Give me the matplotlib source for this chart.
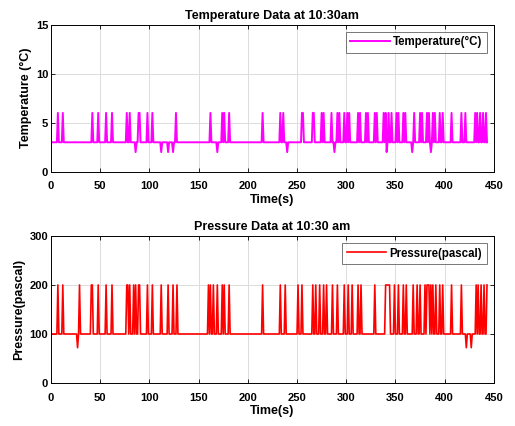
'''plot.py draws the temperature and pressure logs recorded at 10:30am.'''

import numpy as np
import matplotlib
matplotlib.use('Agg')
import matplotlib.pyplot as plt

plt.rcParams['font.family'] = ['Liberation Sans', 'DejaVu Sans']

# last sample time (s)
t_end = 443

# temperature (degC): base level, spike level, dip level and where they happen
temp_base = 3
temp_high = 6
temp_low = 2
temp_high_t = [7, 12, 42, 48, 56, 62, 77, 80, 89, 90, 98, 103, 127, 162, 174,
               176, 181, 215, 233, 236, 255, 256, 266, 267, 275, 277, 285, 291,
               293, 298, 301, 303, 312, 314, 320, 322, 329, 331, 338, 340, 343,
               346, 351, 353, 358, 360, 369, 375, 377, 382, 384, 388, 390, 395,
               398, 407, 417, 421, 431, 433, 436, 439, 442]
temp_low_t = [86, 112, 119, 124, 169, 240, 288, 341, 367, 386]

# pressure (pascal)
pres_base = 100
pres_high = 200
pres_low = 72
pres_high_t = [7, 12, 29, 41, 42, 48, 56, 62, 77, 78, 80, 84, 86, 89, 90, 98,
               103, 112, 119, 124, 128, 160, 162, 165, 169, 174, 176, 181, 215,
               233, 238, 251, 255, 266, 269, 273, 277, 280, 286, 291, 298, 302,
               306, 312, 315, 329, 340, 341, 342, 343, 344, 349, 353, 358, 361,
               368, 372, 375, 380, 382, 383, 384, 386, 388, 391, 395, 398, 407,
               417, 432, 434, 437, 440, 443]
pres_low_t = [27, 422, 427]


def series(base, high, low, high_t, low_t):
  y = np.full(t_end + 1, float(base))
  y[high_t] = high
  y[low_t] = low
  return y


def style(ax, title, ylabel, ymax, ystep):
  ax.set_title(title, fontsize=9, fontweight='bold', pad=4)
  ax.set_xlabel('Time(s)', fontsize=9, fontweight='bold', labelpad=2)
  ax.set_ylabel(ylabel, fontsize=9, fontweight='bold', labelpad=3)
  ax.set_xlim(0, 450)
  ax.set_ylim(0, ymax)
  ax.set_xticks(np.arange(0, 451, 50))
  ax.set_yticks(np.arange(0, ymax + 1, ystep))
  ax.grid(True, color='#dcdcdc', linewidth=0.7)
  ax.tick_params(direction='in', top=True, right=True, labelsize=8,
                 length=3, width=0.6)
  ax.tick_params(axis='x', pad=7)
  ax.tick_params(axis='y', pad=2)
  for lab in ax.get_xticklabels() + ax.get_yticklabels():
    lab.set_fontweight('bold')
  for s in ax.spines.values():
    s.set_linewidth(0.7)
  leg = ax.legend(loc='upper right', fontsize=8.3, frameon=True, fancybox=False,
                  edgecolor='#555555', borderpad=0.4, handlelength=3.4,
                  handletextpad=0.3, borderaxespad=0.6)
  leg.get_frame().set_linewidth(0.7)
  for txt in leg.get_texts():
    txt.set_fontweight('bold')


fig = plt.figure(figsize=(5.15, 4.26), dpi=100)
ax1 = fig.add_axes([0.099, 0.597, 0.860, 0.345])
ax2 = fig.add_axes([0.099, 0.101, 0.860, 0.345])

t = np.arange(t_end + 1)
ax1.plot(t, series(temp_base, temp_high, temp_low, temp_high_t, temp_low_t),
         color='#ff00ff', linewidth=1.4, label='Temperature(°C)')
style(ax1, 'Temperature Data at 10:30am', 'Temperature (°C)', 15, 5)

ax2.plot(t, series(pres_base, pres_high, pres_low, pres_high_t, pres_low_t),
         color='#ff0000', linewidth=1.2, label='Pressure(pascal)')
style(ax2, 'Pressure Data at 10:30 am', 'Pressure(pascal)', 300, 100)

fig.savefig('out.png', dpi=100)
